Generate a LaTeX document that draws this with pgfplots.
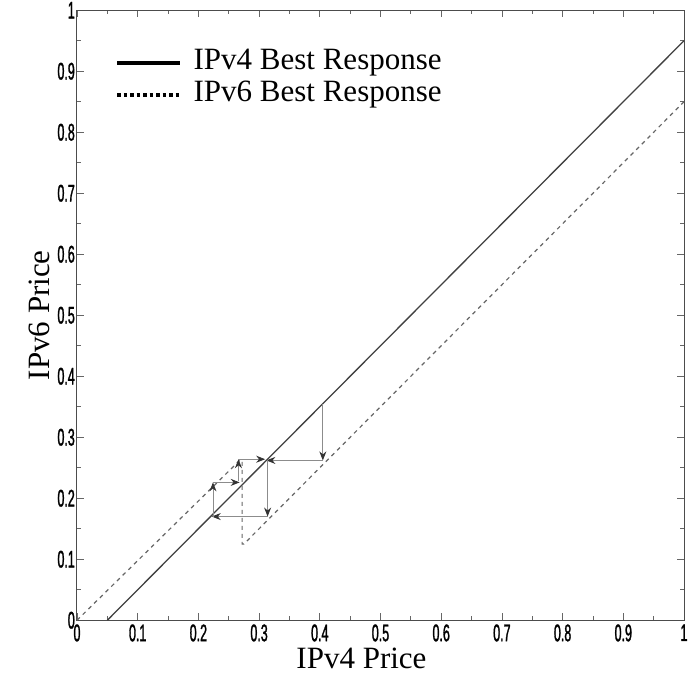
\documentclass[border=0pt]{standalone}
\usepackage{fontspec}
\setmainfont{Liberation Serif}
\newfontfamily\tickfont[FakeStretch=0.52, FakeBold=1.2]{Liberation Sans}
\usepackage{pgfplots}
\pgfplotsset{compat=1.18}
\usetikzlibrary{arrows.meta}

\begin{document}
\begin{tikzpicture}
\begin{axis}[
  name=ax,
  width=607pt, height=610pt, scale only axis,
  xmin=0, xmax=1, ymin=0, ymax=1,
  xtick={0,0.1,...,1}, ytick={0,0.1,...,1},
  minor tick num=1,
  tick align=inside,
  major tick length=7pt, minor tick length=4pt,
  tick style={black!60, line width=0.8pt},
  axis line style={black!70, line width=1pt},
  /pgf/number format/assume math mode=true,
  ticklabel style={font=\tickfont\fontsize{24}{26}\selectfont},
  xticklabel style={inner sep=1pt, yshift=-3pt},
  yticklabel style={inner sep=2pt},
  xlabel={IPv4 Price}, ylabel={IPv6 Price},
  label style={font=\fontsize{31}{34}\selectfont},
  xlabel style={xshift=-19pt, yshift=-2pt},
  ylabel style={yshift=2pt},
  legend cell align=left,
  legend style={at={(axis cs:0.063,0.94)}, anchor=north west,
    draw=none, fill=none, font=\fontsize{31}{31}\selectfont,
    row sep=0pt, inner sep=0pt,
    nodes={inner sep=0pt, text height=22pt, text depth=10pt},
    /tikz/every odd column/.append style={column sep=12pt}},
  legend image code/.code={\draw[#1] (0pt,0pt) -- (63pt,0pt);},
  arr/.style={black!45, line width=0.9pt,
    -{Stealth[length=9pt, width=7pt, black!80]}}
]
\addlegendimage{black, line width=3.2pt}
\addlegendentry{IPv4 Best Response}
\addlegendimage{black, line width=3.2pt, dash pattern=on 3.5pt off 3pt}
\addlegendentry{IPv6 Best Response}

% IPv4 best response
\addplot[black!75, line width=1.3pt, forget plot] coordinates {(0.05,0) (1,0.95)};
% IPv6 best response (with jump)
\addplot[black!60, line width=1.2pt, dash pattern=on 4pt off 4pt, forget plot]
  coordinates {(0,0) (0.268,0.262) (0.272,0.262) (0.272,0.125) (0.275,0.125) (1,0.85)};

% cobweb arrows
\addplot[arr, forget plot] coordinates {(0.405,0.355) (0.405,0.262)};
\addplot[arr, forget plot] coordinates {(0.405,0.262) (0.312,0.262)};
\addplot[arr, forget plot] coordinates {(0.314,0.262) (0.314,0.170)};
\addplot[arr, forget plot] coordinates {(0.314,0.170) (0.222,0.170)};
\addplot[arr, forget plot] coordinates {(0.224,0.170) (0.224,0.226)};
\addplot[arr, forget plot] coordinates {(0.224,0.226) (0.268,0.226)};
\addplot[arr, forget plot] coordinates {(0.266,0.228) (0.266,0.264)};
\addplot[arr, forget plot] coordinates {(0.266,0.264) (0.310,0.264)};
\end{axis}
% page margins as in the reference
\path ([xshift=-77pt,yshift=-60pt]ax.south west) rectangle ([xshift=6pt,yshift=10pt]ax.north east);
\end{tikzpicture}
\end{document}
